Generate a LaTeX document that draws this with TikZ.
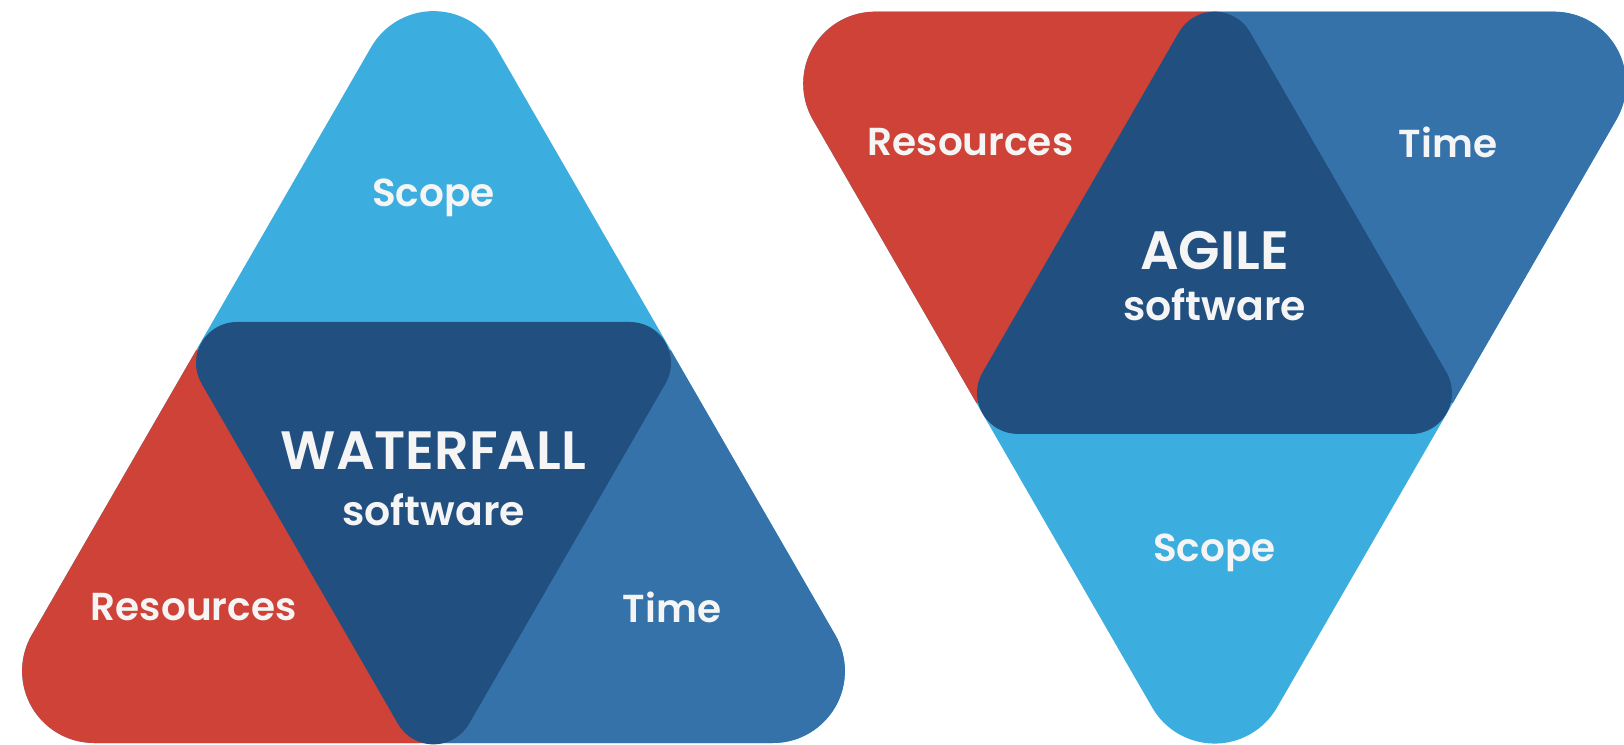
\documentclass[tikz,border=0pt]{standalone}
\usepackage{fontspec}
\newfontfamily\labfont{Poppins}[UprightFont=* SemiBold]
\definecolor{scopeblue}{RGB}{59,173,222}
\definecolor{resred}{RGB}{206,66,55}
\definecolor{timeblue}{RGB}{53,114,170}
\definecolor{corenavy}{RGB}{33,79,128}
\definecolor{labwhite}{RGB}{245,245,245}

\begin{document}
\begin{tikzpicture}[x=1pt,y=1pt,
  lab/.style={text=labwhite,inner sep=0pt,font=\labfont\fontsize{39}{39}\selectfont},
  headlab/.style={text=labwhite,inner sep=0pt,font=\labfont\fontsize{54}{54}\selectfont},
  sublab/.style={text=labwhite,inner sep=0pt,font=\labfont\fontsize{41}{41}\selectfont}]
\useasboundingbox (0,0) rectangle (1624,744);

% Waterfall: outer rounded triangle (apex up), split into three parts
\begin{scope}
  \clip (94.1,1) -- ++(678.8,0) arc[start angle=-90,end angle=30,radius=72]
    -- ++(120:678.8) arc[start angle=30,end angle=150,radius=72]
    -- ++(240:678.8) arc[start angle=150,end angle=270,radius=72] -- cycle;
  \fill[scopeblue] (0,0) rectangle (880,744);
  \fill[resred] (0,0) rectangle (433.5,394);
  \fill[timeblue] (433.5,0) rectangle (880,394);
\end{scope}
% Waterfall: core triangle (apex down)
\fill[corenavy] (630,422) -- ++(-393,0) arc[start angle=90,end angle=210,radius=41]
  -- ++(300:393) arc[start angle=210,end angle=330,radius=41]
  -- ++(60:393) arc[start angle=330,end angle=450,radius=41] -- cycle;

% Agile: outer rounded triangle (apex down), split into three parts
\begin{scope}
  \clip (1554,732.3) -- ++(-678.8,0) arc[start angle=90,end angle=210,radius=72]
    -- ++(300:678.8) arc[start angle=210,end angle=330,radius=72]
    -- ++(60:678.8) arc[start angle=330,end angle=450,radius=72] -- cycle;
  \fill[scopeblue] (780,0) rectangle (1700,744);
  \fill[resred] (780,341) rectangle (1214.5,744);
  \fill[timeblue] (1214.5,341) rectangle (1700,744);
\end{scope}
% Agile: core triangle (apex up)
\fill[corenavy] (1018,310) -- ++(393,0) arc[start angle=-90,end angle=30,radius=41]
  -- ++(120:393) arc[start angle=30,end angle=150,radius=41]
  -- ++(240:393) arc[start angle=150,end angle=270,radius=41] -- cycle;

% Labels
\node[lab] (wscope) at (433.5,546) {Scope};
\node[headlab] (wtitle) at (433.5,293) {WATERFALL};
\node[sublab] (wsub) at (433.5,234.4) {software};
\node[lab] (wres) at (193.7,137) {Resources};
\node[lab] (wtime) at (672,137) {Time};

\node[lab] (ares) at (970.5,602) {Resources};
\node[lab] (atime) at (1448,602) {Time};
\node[headlab] (atitle) at (1214.5,493.5) {AGILE};
\node[sublab] (asub) at (1214.5,439.5) {software};
\node[lab] (ascope) at (1214.5,191) {Scope};
\end{tikzpicture}
\end{document}
